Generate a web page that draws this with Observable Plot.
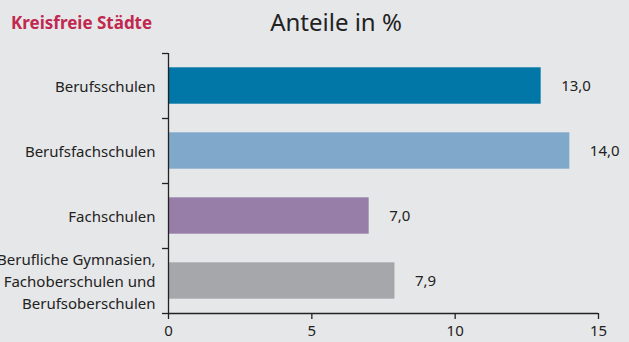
<!DOCTYPE html>
<html><head><meta charset="utf-8">
<script src="https://cdn.jsdelivr.net/npm/d3@7"></script>
<script src="https://cdn.jsdelivr.net/npm/@observablehq/plot@0.6"></script>
<style>
html,body{margin:0;padding:0;background:#e6e7e9;}
#wrap{position:relative;width:629px;height:342px;font-family:"Noto Sans",sans-serif;}
#head{position:relative;height:50px;}
#sub{position:absolute;left:11px;top:11px;font-size:17px;font-weight:bold;color:#c0284f;}
#title{position:absolute;left:0;width:672px;top:5px;text-align:center;font-size:24px;color:#222;}
</style></head>
<body><div id="wrap"><div id="head"><div id="sub">Kreisfreie Städte</div><div id="title">Anteile in %</div></div><div id="chart"></div></div>
<script>
const categories = ["Berufsschulen", "Berufsfachschulen", "Fachschulen", "Berufliche Gymnasien,\nFachoberschulen und\nBerufsoberschulen"];
const values = [13.0, 14.0, 7.0, 7.9];
const colors = ["#0077a6", "#80a8cb", "#977ea8", "#a6a7aa"];
const xTicks = [0, 5, 10, 15];

const data = categories.map((c, i) => ({cat: c, i, v: values[i], col: colors[i]}));
const fmt = d => d.toFixed(1).replace(".", ",");

const plot = Plot.plot({
  width: 629, height: 292,
  marginLeft: 168, marginRight: 31, marginTop: 3, marginBottom: 29,
  style: {background: "transparent", fontFamily: "Noto Sans, sans-serif", fontSize: "15px", color: "#222"},
  x: {domain: [0, 15]},
  y: {domain: [0, 4], reverse: true},
  marks: [
    Plot.rectX(data, {x1: 0, x2: "v", y1: d => d.i + 0.22, y2: d => d.i + 0.78, fill: "col"}),
    Plot.text(data, {x: "v", y: d => d.i + 0.5, text: d => fmt(d.v), textAnchor: "start", dx: 20, fontSize: 15, fill: "#222"}),
    Plot.text(data, {x: 0, y: d => d.i + 0.5, text: "cat", textAnchor: "end", dx: -13, dy: -1, fontSize: 15, lineHeight: 1.45, fill: "#222"}),
    Plot.axisX({ticks: xTicks, tickFormat: d => d, tickSize: 6, tickPadding: 6, fontSize: 15, stroke: "#222", strokeWidth: 1.3, label: null}),
    Plot.axisY({ticks: [0, 1, 2, 3, 4], tickFormat: () => "", tickSize: 6, stroke: "#222", strokeWidth: 1.3, label: null}),
    Plot.ruleY([4], {stroke: "#222", strokeWidth: 1.3}),
    Plot.ruleX([0], {stroke: "#222", strokeWidth: 1.3})
  ]
});
document.getElementById("chart").appendChild(plot);
</script></body></html>
